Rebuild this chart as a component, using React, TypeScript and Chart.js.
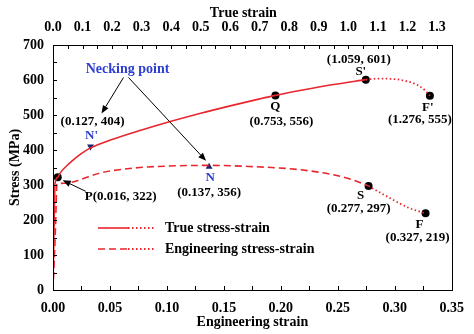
import React, { useEffect, useRef } from 'react';
import { Chart, registerables } from 'chart.js';

Chart.register(...registerables);

// True stress-strain (plotted on the top "True strain" axis)
const trueStrain = [0, 0.004, 0.007, 0.016, 0.024, 0.057, 0.091, 0.127, 0.2, 0.3, 0.4, 0.5, 0.6, 0.7, 0.753, 0.85, 0.95, 1.059];
const trueStress = [0, 200, 305, 322, 334, 363, 387, 406, 430, 457, 482, 505, 526, 546, 556, 572, 587, 601];
const trueNeckStrain = [1.059, 1.1, 1.15, 1.2, 1.24, 1.26, 1.276];
const trueNeckStress = [601, 604, 603, 596, 583, 570, 555];

// Engineering stress-strain (bottom "Engineering strain" axis)
const engStrain = [0, 0.002, 0.0035, 0.01, 0.019, 0.041, 0.07, 0.1, 0.137, 0.172, 0.216, 0.245, 0.26, 0.277];
const engStress = [0, 160, 303, 305, 310, 334, 348, 354, 356, 353, 344, 330, 318, 297];
const engFracStrain = [0.277, 0.295, 0.312, 0.327];
const engFracStress = [297, 264, 235, 219];

// Marked points
const trueMarkNames = ['P', 'Q', "S'", "F'"];
const trueMarkStrain = [0.016, 0.753, 1.059, 1.276];
const trueMarkStress = [322, 556, 601, 555];
const engMarkNames = ['S', 'F'];
const engMarkStrain = [0.277, 0.327];
const engMarkStress = [297, 219];
const neckTrueStrain = [0.127];
const neckTrueStress = [410];
const neckEngStrain = [0.137];
const neckEngStress = [352];

// Tick labels
const engTicks = [0, 0.05, 0.1, 0.15, 0.2, 0.25, 0.3, 0.35];
const trueTicks = [0, 0.1, 0.2, 0.3, 0.4, 0.5, 0.6, 0.7, 0.8, 0.9, 1.0, 1.1, 1.2, 1.3];
const stressTicks = [0, 100, 200, 300, 400, 500, 600, 700];

const RED = '#e8262e';
const BLUE = '#2f3fd0';
const NAVY = '#1c2570';
const FONT = "'Liberation Serif', 'Times New Roman', serif";

const pts = (xs: number[], ys: number[]) => xs.map((x, i) => ({ x, y: ys[i] }));

const annotPlugin = {
  id: 'annot',
  afterDraw(chart: any) {
    const { ctx, chartArea: a, scales } = chart;
    const x = scales.x, x2 = scales.x2, y = scales.y;
    ctx.save();
    // frame
    ctx.strokeStyle = '#000';
    ctx.lineWidth = 1;
    ctx.setLineDash([]);
    ctx.strokeRect(Math.round(a.left) + 0.5, Math.round(a.top) + 0.5, Math.round(a.right - a.left), Math.round(a.bottom - a.top));
    // inward ticks
    ctx.beginPath();
    for (let v = 0; v <= 0.35 + 1e-9; v += 0.025) {
      const px = Math.round(x.getPixelForValue(v)) + 0.5;
      ctx.moveTo(px, a.bottom); ctx.lineTo(px, a.bottom - 4);
    }
    for (let v = 0; v <= 1.35 + 1e-9; v += 0.05) {
      const px = Math.round(x2.getPixelForValue(v)) + 0.5;
      ctx.moveTo(px, a.top); ctx.lineTo(px, a.top + 4);
    }
    for (let v = 0; v <= 700; v += 50) {
      const py = Math.round(y.getPixelForValue(v)) + 0.5;
      ctx.moveTo(a.left, py); ctx.lineTo(a.left + 4, py);
    }
    ctx.stroke();

    const text = (s: string, px: number, py: number, color = '#000', size = 13, align: CanvasTextAlign = 'center') => {
      ctx.font = `bold ${size}px ${FONT}`;
      ctx.fillStyle = color;
      ctx.textAlign = align;
      ctx.textBaseline = 'middle';
      ctx.fillText(s, px, py);
    };
    const arrow = (sx: number, sy: number, ex: number, ey: number) => {
      ctx.strokeStyle = '#000';
      ctx.fillStyle = '#000';
      ctx.lineWidth = 1;
      ctx.setLineDash([]);
      const ang = Math.atan2(ey - sy, ex - sx);
      const hl = 8, hw = 3.2;
      const bx = ex - hl * Math.cos(ang), by = ey - hl * Math.sin(ang);
      ctx.beginPath(); ctx.moveTo(sx, sy); ctx.lineTo(bx, by); ctx.stroke();
      ctx.beginPath();
      ctx.moveTo(ex, ey);
      ctx.lineTo(bx + hw * Math.sin(ang), by - hw * Math.cos(ang));
      ctx.lineTo(bx - hw * Math.sin(ang), by + hw * Math.cos(ang));
      ctx.closePath(); ctx.fill();
    };

    // axis titles
    text('True strain', (a.left + a.right) / 2 - 9, 13, '#000', 14);
    text('Engineering strain', (a.left + a.right) / 2, 322, '#000', 14);
    ctx.save();
    ctx.translate(15, (a.top + a.bottom) / 2);
    ctx.rotate(-Math.PI / 2);
    text('Stress (MPa)', 0, 0, '#000', 14);
    ctx.restore();

    const tp = (i: number) => ({ px: x2.getPixelForValue(trueMarkStrain[i]), py: y.getPixelForValue(trueMarkStress[i]) });
    const ep = (i: number) => ({ px: x.getPixelForValue(engMarkStrain[i]), py: y.getPixelForValue(engMarkStress[i]) });
    const lbl = (sx: number, sy: number) => `(${sx.toFixed(3)}, ${sy})`;

    // P
    const P = tp(0);
    text(trueMarkNames[0] + lbl(trueMarkStrain[0], trueMarkStress[0]), P.px + 27, P.py + 19, '#000', 13, 'left');
    arrow(P.px + 28, P.py + 14, P.px + 5, P.py + 3);
    // Q
    const Q = tp(1);
    text(trueMarkNames[1], Q.px, Q.py + 11);
    text(lbl(trueMarkStrain[1], trueMarkStress[1]), Q.px + 6, Q.py + 26);
    // S'
    const S1 = tp(2);
    text(trueMarkNames[2], S1.px - 5, S1.py - 8);
    text(lbl(trueMarkStrain[2], trueMarkStress[2]), S1.px - 7, S1.py - 20);
    // F'
    const F1 = tp(3);
    text(trueMarkNames[3], F1.px - 2, F1.py + 12);
    text(lbl(trueMarkStrain[3], trueMarkStress[3]), F1.px - 10, F1.py + 24);
    // S, F
    const S = ep(0);
    text(engMarkNames[0], S.px - 8, S.py + 10);
    text(lbl(engMarkStrain[0], engMarkStress[0]), S.px - 10, S.py + 23);
    const F = ep(1);
    text(engMarkNames[1], F.px - 6, F.py + 11);
    text(lbl(engMarkStrain[1], engMarkStress[1]), F.px - 8, F.py + 24);

    // necking
    const Nt = { px: x2.getPixelForValue(neckTrueStrain[0]), py: y.getPixelForValue(neckTrueStress[0]) };
    const Ne = { px: x.getPixelForValue(neckEngStrain[0]), py: y.getPixelForValue(neckEngStress[0]) };
    text("N'", Nt.px + 1, Nt.py - 11, BLUE, 13);
    text('(0.127, 404)', Nt.px + 2, Nt.py - 25);
    text('N', Ne.px + 1, Ne.py + 11, BLUE, 13);
    text('(0.137, 356)', Ne.px, Ne.py + 26);
    const nkx = Nt.px + 37, nky = Nt.py - 77;
    text('Necking point', nkx, nky, BLUE, 14);
    arrow(nkx - 4, nky + 8, Nt.px + 11, Nt.py - 33);
    arrow(nkx + 1, nky + 8, Ne.px - 3, Ne.py - 6);

    // legend
    const lx = a.left + 45, ly1 = 228, ly2 = 249;
    ctx.strokeStyle = RED;
    ctx.lineWidth = 1.6;
    ctx.setLineDash([]);
    ctx.beginPath(); ctx.moveTo(lx, ly1); ctx.lineTo(lx + 30, ly1); ctx.stroke();
    ctx.setLineDash([7, 4]);
    ctx.beginPath(); ctx.moveTo(lx, ly2); ctx.lineTo(lx + 30, ly2); ctx.stroke();
    ctx.setLineDash([1.5, 2.5]);
    ctx.lineWidth = 1.8;
    ctx.beginPath(); ctx.moveTo(lx + 30, ly1); ctx.lineTo(lx + 56, ly1); ctx.stroke();
    ctx.beginPath(); ctx.moveTo(lx + 30, ly2); ctx.lineTo(lx + 56, ly2); ctx.stroke();
    ctx.setLineDash([]);
    text('True stress-strain', lx + 67, ly1, '#000', 14, 'left');
    text('Engineering stress-strain', lx + 67, ly2, '#000', 14, 'left');
    ctx.restore();
  },
};

export default function App() {
  const ref = useRef<HTMLCanvasElement | null>(null);
  useEffect(() => {
    if (!ref.current) return;
    const tickFont = { family: FONT, size: 14, weight: 'bold' as const };
    const lineBase = { showLine: true, pointRadius: 0, borderColor: RED, fill: false, cubicInterpolationMode: 'monotone' as const };
    const markBase = { showLine: false, pointRadius: 4, borderWidth: 0, backgroundColor: '#000', borderColor: '#000' };
    const chart = new Chart(ref.current, {
      type: 'scatter',
      data: {
        datasets: [
          { ...lineBase, label: 'True stress-strain', xAxisID: 'x2', data: pts(trueStrain, trueStress), borderWidth: 1.6 },
          { ...lineBase, label: 'True necking', xAxisID: 'x2', data: pts(trueNeckStrain, trueNeckStress), borderWidth: 1.8, borderDash: [1.5, 2.5] },
          { ...lineBase, label: 'Engineering stress-strain', xAxisID: 'x', data: pts(engStrain, engStress), borderWidth: 1.6, borderDash: [7, 4] },
          { ...lineBase, label: 'Engineering fracture', xAxisID: 'x', data: pts(engFracStrain, engFracStress), borderWidth: 1.8, borderDash: [1.5, 2.5] },
          { ...markBase, label: 'true marks', xAxisID: 'x2', data: pts(trueMarkStrain, trueMarkStress) },
          { ...markBase, label: 'eng marks', xAxisID: 'x', data: pts(engMarkStrain, engMarkStress) },
          { ...markBase, label: "N'", xAxisID: 'x2', data: pts(neckTrueStrain, neckTrueStress), pointStyle: 'triangle', pointRotation: 180, pointRadius: 4, backgroundColor: NAVY, borderColor: NAVY },
          { ...markBase, label: 'N', xAxisID: 'x', data: pts(neckEngStrain, neckEngStress), pointStyle: 'triangle', pointRadius: 4, backgroundColor: NAVY, borderColor: NAVY },
        ],
      },
      options: {
        animation: false,
        responsive: false,
        devicePixelRatio: 1,
        layout: { padding: { left: 0, right: 21, top: 0, bottom: 0 } },
        plugins: { legend: { display: false }, tooltip: { enabled: false } },
        scales: {
          x: {
            type: 'linear', position: 'bottom', min: 0, max: 0.35,
            afterBuildTicks: (s: any) => { s.ticks = engTicks.map((v) => ({ value: v })); },
            afterFit: (s: any) => { s.height = 44; },
            grid: { display: false, drawTicks: false },
            border: { display: false },
            ticks: { padding: 10, color: '#000', font: tickFont, maxRotation: 0, autoSkip: false, callback: (v: any) => Number(v).toFixed(2) },
          },
          x2: {
            type: 'linear', position: 'top', min: 0, max: 1.35,
            afterBuildTicks: (s: any) => { s.ticks = trueTicks.map((v) => ({ value: v })); },
            afterFit: (s: any) => { s.height = 45; },
            grid: { display: false, drawTicks: false },
            border: { display: false },
            ticks: { padding: 9, color: '#000', font: tickFont, maxRotation: 0, autoSkip: false, callback: (v: any) => Number(v).toFixed(1) },
          },
          y: {
            type: 'linear', position: 'left', min: 0, max: 700,
            afterBuildTicks: (s: any) => { s.ticks = stressTicks.map((v) => ({ value: v })); },
            afterFit: (s: any) => { s.width = 53; },
            grid: { display: false, drawTicks: false },
            border: { display: false },
            ticks: { padding: 9, color: '#000', font: tickFont, autoSkip: false },
          },
        },
      },
      plugins: [annotPlugin],
    } as any);
    return () => chart.destroy();
  }, []);
  return (
    <div style={{ position: 'fixed', left: 0, top: 0, width: 474, height: 334, background: '#fff' }}>
      <canvas ref={ref} width={474} height={334} style={{ display: 'block', width: 474, height: 334 }} />
    </div>
  );
}
